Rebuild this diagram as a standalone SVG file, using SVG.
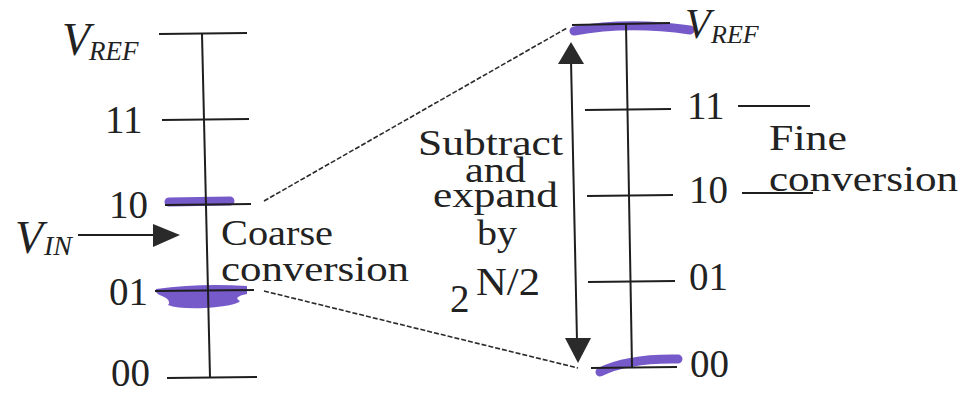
<svg xmlns="http://www.w3.org/2000/svg" width="967" height="394" viewBox="0 0 967 394">
<defs>
<style>
.ln{stroke:#1e1e1e;stroke-width:2;fill:none;stroke-linecap:butt}
.ds{stroke:#2a2a2a;stroke-width:1.6;fill:none;stroke-dasharray:5 2}
.hl{stroke:#6a4cc6;fill:none;stroke-linecap:round;opacity:0.92}
.hf{fill:#6a4cc6;opacity:0.92}
.t{font-family:"Liberation Serif","Times New Roman",serif;font-size:39px;fill:#222}
.s{font-size:35px}
.it{font-family:"Liberation Serif","Times New Roman",serif;font-style:italic;fill:#222}
.ah{fill:#2a2a2a}
</style>
</defs>
<rect width="967" height="394" fill="#fff"/>

<g id="left-scale">
<path class="hl" d="M169,202 L230,201" stroke-width="9"/>
<path class="hf" d="M156,289 Q200,283 247,286 L247,294 Q232,297 240,301 Q236,306 205,308 Q178,309 168,305 Q172,300 162,296 Q154,293 156,289 Z"/>
<path class="ln" d="M202,34 L210,377"/>
<path class="ln" d="M159,34 L247,33"/>
<path class="ln" d="M162,120 L249,119"/>
<path class="ln" d="M165,205 L251,204"/>
<path class="ln" d="M155,291 L254,290"/>
<path class="ln" d="M167,378 L257,377"/>
<text class="it" x="62" y="55" font-size="46">V</text>
<text class="it" x="89" y="60" font-size="27">REF</text>
<text class="t" x="105" y="133">11</text>
<text class="t" x="109" y="218">10</text>
<text class="t" x="109" y="305">01</text>
<text class="t" x="111" y="386" font-size="37">00</text>
</g>

<g id="vin">
<text class="it" x="15" y="253" font-size="46">V</text>
<text class="it" x="44" y="255" font-size="28">IN</text>
<path class="ln" d="M78,235 L156,235"/>
<polygon class="ah" points="153,224 180,235 153,247"/>
</g>

<g id="coarse-label">
<text class="t s" x="221" y="245" textLength="112" lengthAdjust="spacingAndGlyphs">Coarse</text>
<text class="t s" x="221" y="281" textLength="188" lengthAdjust="spacingAndGlyphs">conversion</text>
</g>

<g id="right-scale">
<path class="hl" d="M574,31 Q628,21 690,30" stroke-width="9"/>
<path class="hl" d="M600,372 Q628,358 678,359" stroke-width="9"/>
<path class="ln" d="M626,24 L632,367"/>
<path class="ln" d="M572,25 L670,23"/>
<path class="ln" d="M585,110 L671,109"/>
<path class="ln" d="M587,196 L673,195"/>
<path class="ln" d="M588,282 L675,281"/>
<path class="ln" d="M591,368 L677,367"/>
<text class="it" x="685" y="38" font-size="42">V</text>
<text class="it" x="711" y="43" font-size="26">REF</text>
<text class="t" x="687" y="119">11</text>
<text class="t" x="689" y="203">10</text>
<text class="t" x="689" y="290">01</text>
<text class="t" x="690" y="377">00</text>
</g>

<g id="fine-label">
<path class="ln" d="M738,106 L810,106"/>
<path class="ln" d="M742,193 L813,193"/>
<text class="t s" x="769" y="150" textLength="78" lengthAdjust="spacingAndGlyphs">Fine</text>
<text class="t s" x="769" y="191" textLength="189" lengthAdjust="spacingAndGlyphs">conversion</text>
</g>

<g id="subtract-label">
<text class="t s" x="418" y="155" textLength="145" lengthAdjust="spacingAndGlyphs">Subtract</text>
<text class="t s" x="465" y="182" textLength="61" lengthAdjust="spacingAndGlyphs">and</text>
<text class="t s" x="433" y="207" textLength="125" lengthAdjust="spacingAndGlyphs">expand</text>
<text class="t s" x="477" y="245" textLength="40" lengthAdjust="spacingAndGlyphs">by</text>
<text class="t" x="450" y="312">2</text>
<text class="t" x="476" y="295" textLength="64" lengthAdjust="spacingAndGlyphs">N/2</text>
</g>

<g id="connectors">
<path class="ds" d="M264,201 L567,28"/>
<path class="ds" d="M264,291 L578,368"/>
<path class="ln" d="M571,60 L577,341"/>
<polygon class="ah" points="571,42 584,64 558,64"/>
<polygon class="ah" points="578,363 565,338 591,338"/>
</g>
</svg>
